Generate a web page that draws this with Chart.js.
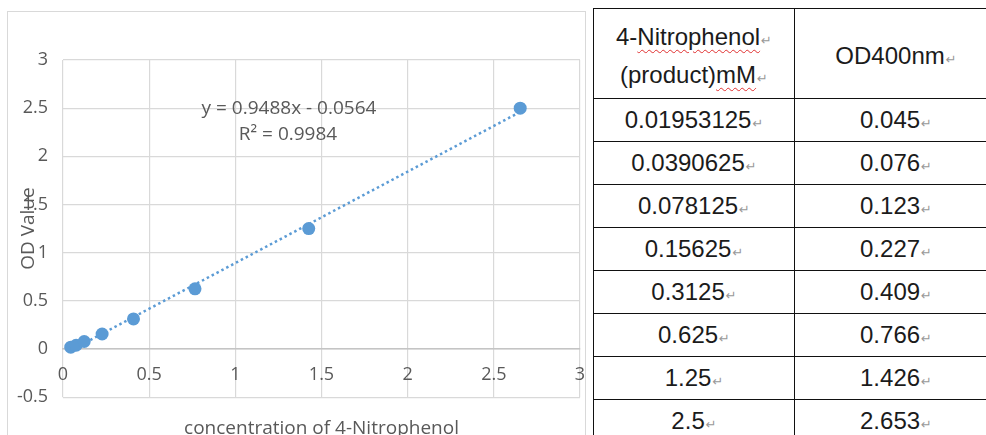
<!DOCTYPE html>
<html><head><meta charset="utf-8">
<script src="https://cdn.jsdelivr.net/npm/chart.js@4.4.1/dist/chart.umd.min.js"></script>
<style>
html,body{margin:0;padding:0;background:#fff;width:986px;height:435px;overflow:hidden;position:relative}
#box{position:absolute;left:7px;top:11px;width:579px;height:470px;border:1px solid #d9d9d9;box-sizing:border-box}
#wrap{position:absolute;left:0;top:0;width:590px;height:442px}
#tw{position:absolute;left:593px;top:8px;width:393px;height:430px;overflow:hidden}
table{width:420px;table-layout:fixed;border-collapse:collapse;font-family:"Liberation Sans",Arial,sans-serif;font-size:24px;color:#1b1b1b}
td{border:1.5px solid #111;height:43px;text-align:center;vertical-align:middle;padding:0;box-sizing:border-box;line-height:26px}
td.c2{padding-right:16px}
tr.head td{height:90px;line-height:38px;padding-top:4px}
.pm{font-family:"DejaVu Sans",sans-serif;font-size:13px;color:#999;margin-left:1px;line-height:0}
.sp{text-decoration:underline wavy #e03030;text-decoration-thickness:1px;text-underline-offset:4px}
</style></head>
<body>
<div id="box"></div>
<div id="wrap"><canvas id="c"></canvas></div>
<div id="tw"><table id="tbl"></table></div>
<script>
// ---- data ----
const concentration = [0.01953125, 0.0390625, 0.078125, 0.15625, 0.3125, 0.625, 1.25, 2.5];
const odValues      = [0.045, 0.076, 0.123, 0.227, 0.409, 0.766, 1.426, 2.653];
const xTickValues   = [0, 0.5, 1, 1.5, 2, 2.5, 3];
const yTickValues   = [-0.5, 0, 0.5, 1, 1.5, 2, 2.5, 3];
const trendSlope = 0.9488;
const trendIntercept = -0.0564;
const trendR2 = 0.9984;
const xTitle = 'concentration of 4-Nitrophenol';
const yTitle = 'OD Value';
const tableHeader1 = ['4-', 'Nitrophenol', '(product)', 'mM'];
const tableHeader2 = 'OD400nm';

// ---- table ----
const pm = '<span class="pm">\u21B5</span>';
let html = '<colgroup><col style="width:201px"><col style="width:219px"></colgroup>';
html += '<tr class="head"><td>' + tableHeader1[0] + '<span class="sp">' + tableHeader1[1] + '</span>' + pm +
  '<br>' + tableHeader1[2] + '<span class="sp">' + tableHeader1[3] + '</span>' + pm + '</td><td class="c2">' + tableHeader2 + pm + '</td></tr>';
concentration.forEach((c, i) => {
  html += '<tr><td>' + String(c) + pm + '</td><td class="c2">' + String(odValues[i]) + pm + '</td></tr>';
});
document.getElementById('tbl').innerHTML = html;

// ---- chart ----
const points = odValues.map((x, i) => ({x: x, y: concentration[i]}));
const xMin = Math.min(...odValues), xMax = Math.max(...odValues);
const trend = [xMin, xMax].map(x => ({x: x, y: trendSlope * x + trendIntercept}));
const txt = '#595959';
const fam = '"Open Sans", sans-serif';

const eqPlugin = {
  id: 'eq',
  afterDatasetsDraw(chart) {
    const ctx = chart.ctx, a = chart.chartArea;
    ctx.save();
    ctx.font = '19px ' + fam;
    ctx.fillStyle = txt;
    ctx.textAlign = 'center';
    ctx.textBaseline = 'middle';
    const sign = trendIntercept < 0 ? ' - ' : ' + ';
    ctx.fillText('y = ' + trendSlope + 'x' + sign + Math.abs(trendIntercept), a.left + 226, a.top + 49);
    ctx.fillText('R\u00B2 = ' + trendR2, a.left + 225, a.top + 75);
    ctx.restore();
  }
};

new Chart(document.getElementById('c'), {
  type: 'scatter',
  data: {
    datasets: [
      {data: points, backgroundColor: '#5b9bd5', borderColor: '#5b9bd5', pointRadius: 6.5, pointBorderWidth: 0, order: 1},
      {data: trend, showLine: true, borderColor: '#5b9bd5', borderWidth: 2.5, borderDash: [2.5, 3], pointRadius: 0, fill: false, order: 2}
    ]
  },
  options: {
    responsive: true, maintainAspectRatio: false, animation: false,
    layout: {padding: {top: 60, right: 10, left: 0, bottom: 0}},
    plugins: {
      legend: {display: false}, tooltip: {enabled: false},
      title: {display: true, position: 'bottom', fullSize: false, text: xTitle, color: txt,
              font: {family: fam, size: 19, weight: 'normal'}, padding: {top: 20, bottom: 2}}
    },
    scales: {
      x: {
        type: 'linear', position: {y: 0}, min: xTickValues[0], max: xTickValues[xTickValues.length - 1],
        afterBuildTicks: s => { s.ticks = xTickValues.map(v => ({value: v})); },
        afterFit: s => { s.paddingLeft = 4; s.paddingRight = 4; },
        ticks: {color: txt, font: {family: fam, size: 18}, padding: 15, maxRotation: 0, callback: v => String(v)},
        grid: {color: '#d9d9d9', lineWidth: 1.2, drawTicks: false},
        border: {color: '#c4c4c4', width: 1.5}
      },
      y: {
        type: 'linear', min: yTickValues[0], max: yTickValues[yTickValues.length - 1],
        afterBuildTicks: s => { s.ticks = yTickValues.map(v => ({value: v})); },
        afterFit: s => { s.width = 63; },
        ticks: {color: txt, font: {family: fam, size: 18}, padding: 15, callback: v => String(v)},
        grid: {color: '#d9d9d9', lineWidth: 1.2, drawTicks: false},
        border: {display: false},
        title: {display: true, text: yTitle, color: txt, font: {family: fam, size: 19}, padding: {top: 17, bottom: 0}}
      }
    }
  },
  plugins: [eqPlugin]
});
</script>
</body></html>
